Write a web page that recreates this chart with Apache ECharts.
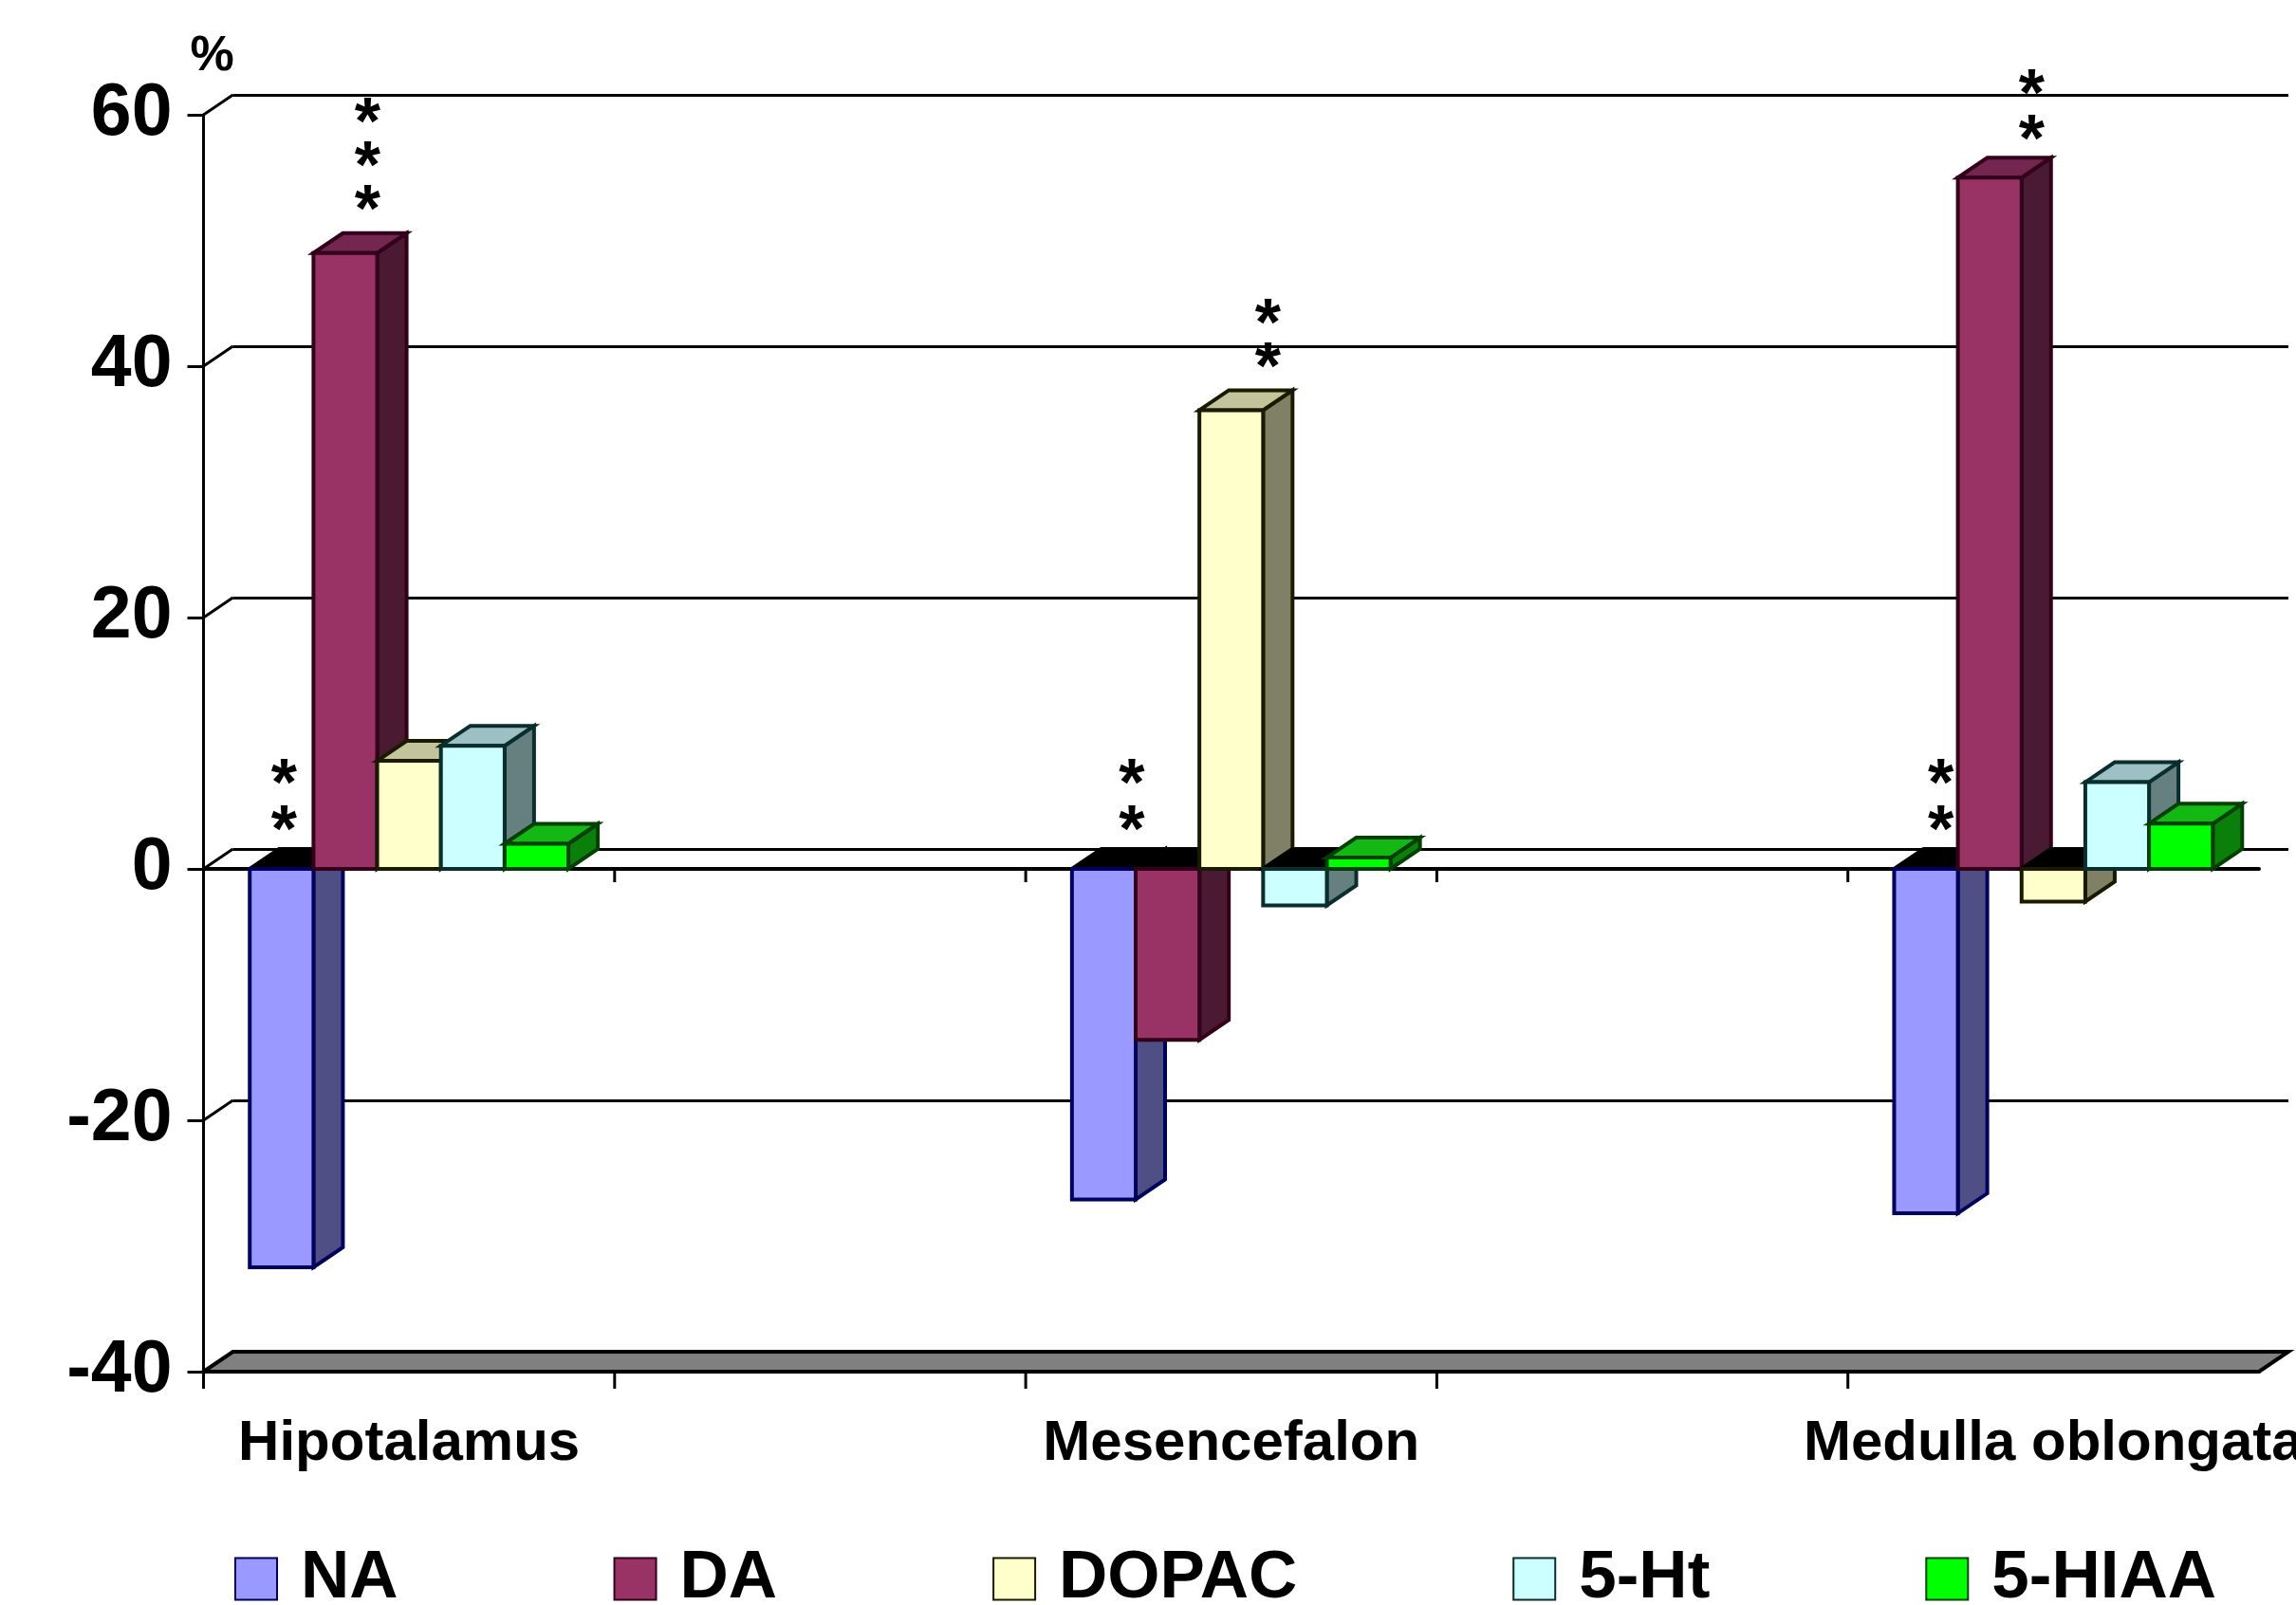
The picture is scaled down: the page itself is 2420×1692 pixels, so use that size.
<!DOCTYPE html>
<html>
<head>
<meta charset="utf-8">
<title>Hipotalamus, Mesencefalon, Medulla oblongata</title>
<script src="https://cdn.jsdelivr.net/npm/echarts@6/dist/echarts.min.js"></script>
<style>
html, body { margin: 0; padding: 0; background: #fff; overflow: hidden; }
#main { width: 2420px; height: 1692px; }
</style>
</head>
<body>
<div id="main"></div>
<script>
// two empty categories keep the gaps between the regions
var categories = ['Hipotalamus', '', 'Mesencefalon', '', 'Medulla oblongata'];
var yTicks = [60, 40, 20, 0, -20, -40];

var valuesNA = [-31.7, null, -26.3, null, -27.4];
var valuesDA = [49, null, -13.6, null, 55];
var valuesDOPAC = [8.6, null, 36.5, null, -2.6];
var valuesHt = [9.8, null, -2.9, null, 6.9];
var valuesHIAA = [2, null, 0.9, null, 3.6];

// significance stars: category, value, offset from band centre (in bands)
var starCats = [0, 0, 0, 0, 0, 2, 2, 2, 2, 4, 4, 4, 4];
var starValues = [7.6, 3.9, 60.2, 56.7, 53.2, 7.6, 3.9, 44.2, 40.7, 7.6, 3.9, 62.4, 58.8];
var starOffsets = [-0.304, -0.304, -0.101, -0.101, -0.101, -0.242, -0.242, 0.089, 0.089, -0.274, -0.274, -0.053, -0.053];

// 3d look
var depthX = 31;
var depthY = -21;
var barRatio = 0.155;
var lineColor = '#000';
var fontName = '"Liberation Sans", Arial, sans-serif';

var barStyles = [
	{ name: 'NA', data: valuesNA, front: '#9999ff', side: '#4f4f85', top: '#6d6db5', border: '#00005c' },
	{ name: 'DA', data: valuesDA, front: '#993366', side: '#4a1a33', top: '#732650', border: '#33001a' },
	{ name: 'DOPAC', data: valuesDOPAC, front: '#ffffcc', side: '#808066', top: '#c4c49c', border: '#1a1a00' },
	{ name: '5-Ht', data: valuesHt, front: '#ccffff', side: '#668080', top: '#9cc0c4', border: '#0a2e2e' },
	{ name: '5-HIAA', data: valuesHIAA, front: '#00ff00', side: '#0a800a', top: '#14b814', border: '#004000' }
];

function quad(a, b, c, d, fill, stroke, lw) {
	return {
		type: 'polygon',
		shape: { points: [a, b, c, d] },
		style: { fill: fill, stroke: stroke, lineWidth: lw }
	};
}

function barRenderer(index, st) {
	return function (params, api) {
		var val = api.value(1);
		if (isNaN(val)) return;
		var band = api.size([1, 0])[0];
		var w = band * barRatio;
		var center = api.coord([api.value(0), 0]);
		var x0 = center[0] + (index - 2.5) * w;
		var x1 = x0 + w;
		var y0 = center[1];
		var y1 = api.coord([api.value(0), val])[1];
		var topY = Math.min(y0, y1);
		var lowY = Math.max(y0, y1);
		var topFill = val < 0 ? '#000' : st.top;
		return {
			type: 'group',
			children: [
				quad([x1, topY], [x1 + depthX, topY + depthY], [x1 + depthX, lowY + depthY], [x1, lowY], st.side, st.border, 4),
				quad([x0, topY], [x0 + depthX, topY + depthY], [x1 + depthX, topY + depthY], [x1, topY], topFill, val < 0 ? '#000' : st.border, 4),
				{
					type: 'rect',
					shape: { x: x0, y: topY, width: w, height: lowY - topY },
					style: { fill: st.front, stroke: st.border, lineWidth: 4 }
				}
			]
		};
	};
}

var barSeries = barStyles.map(function (st, index) {
	return {
		name: st.name,
		type: 'custom',
		xAxisIndex: 0,
		yAxisIndex: 0,
		z: 5,
		encode: { x: 0, y: 1 },
		itemStyle: { color: st.front, borderColor: st.border, borderWidth: 3 },
		renderItem: barRenderer(index, st),
		data: st.data.map(function (v, i) { return [i, v]; })
	};
});

// grey floor under the chart
var floorSeries = {
	type: 'custom',
	xAxisIndex: 0,
	yAxisIndex: 0,
	z: 3,
	silent: true,
	encode: { x: 0, y: 1 },
	renderItem: function (params, api) {
		var sys = params.coordSys;
		var y = api.coord([0, yTicks[yTicks.length - 1]])[1];
		return quad([sys.x, y], [sys.x + depthX, y + depthY], [sys.x + sys.width + depthX, y + depthY], [sys.x + sys.width, y], '#808080', lineColor, 4);
	},
	data: [[0, yTicks[yTicks.length - 1]]]
};

// short slanted lines from the axis to the back wall
var wallSeries = {
	type: 'custom',
	xAxisIndex: 0,
	yAxisIndex: 0,
	z: 2,
	silent: true,
	encode: { x: 0, y: 1 },
	renderItem: function (params, api) {
		var x = params.coordSys.x;
		var y = api.coord([0, api.value(1)])[1];
		return {
			type: 'line',
			shape: { x1: x, y1: y, x2: x + depthX, y2: y + depthY },
			style: { stroke: lineColor, lineWidth: 3 }
		};
	},
	data: yTicks.map(function (t) { return [0, t]; })
};

// band ticks under the zero line and under the floor, none on the far right
var bandTickSeries = {
	type: 'custom',
	xAxisIndex: 0,
	yAxisIndex: 0,
	z: 2,
	silent: true,
	encode: { x: 0, y: 1 },
	renderItem: function (params, api) {
		var band = api.size([1, 0])[0];
		var x = api.coord([api.value(0), 0])[0] - band / 2;
		var zeroY = api.coord([0, 0])[1];
		var lowY = api.coord([0, yTicks[yTicks.length - 1]])[1];
		return {
			type: 'group',
			children: [
				{ type: 'line', shape: { x1: x, y1: zeroY, x2: x, y2: zeroY + 14 }, style: { stroke: lineColor, lineWidth: 3 } },
				{ type: 'line', shape: { x1: x, y1: lowY, x2: x, y2: lowY + 18 }, style: { stroke: lineColor, lineWidth: 3 } }
			]
		};
	},
	data: categories.map(function (c, i) { return [i, 0]; })
};

var starSeries = {
	type: 'custom',
	xAxisIndex: 0,
	yAxisIndex: 0,
	z: 8,
	silent: true,
	encode: { x: 0, y: 1 },
	renderItem: function (params, api) {
		var p = api.coord([api.value(0), api.value(1)]);
		var band = api.size([1, 0])[0];
		return {
			type: 'text',
			style: {
				x: p[0] + api.value(2) * band,
				y: p[1] + 14,
				text: '*',
				fill: '#000',
				font: 'bold 70px ' + fontName,
				textAlign: 'center',
				textVerticalAlign: 'middle'
			}
		};
	},
	data: starCats.map(function (c, i) { return [c, starValues[i], starOffsets[i]]; })
};

var myChart = echarts.init(document.getElementById('main'));
myChart.setOption({
	animation: false,
	backgroundColor: '#fff',
	legend: {
		data: barStyles.map(function (st) { return st.name; }),
		left: 242,
		top: 1624,
		icon: 'rect',
		itemWidth: 44,
		itemHeight: 44,
		itemGap: 227,
		selectedMode: false,
		textStyle: {
			color: '#000',
			fontFamily: fontName,
			fontWeight: 'bold',
			fontSize: 71,
			padding: [0, 0, 0, 20]
		}
	},
	grid: [
		{ left: 214.5, top: 121, width: 2166.5, height: 1325, outerBoundsMode: 'none' },
		// back wall, same size, moved by the depth
		{ left: 214.5 + depthX, top: 121 + depthY, width: 2166.5, height: 1325, outerBoundsMode: 'none' }
	],
	xAxis: [
		{
			type: 'category',
			gridIndex: 0,
			position: 'bottom',
			data: categories,
			axisLine: { onZero: false, lineStyle: { color: lineColor, width: 4 } },
			axisTick: { show: false },
			axisLabel: {
				interval: 0,
				margin: 46,
				color: '#000',
				fontFamily: fontName,
				fontWeight: 'bold',
				fontSize: 60
			}
		},
		{
			type: 'category',
			gridIndex: 0,
			position: 'top',
			data: categories,
			axisLine: { onZero: true, lineStyle: { color: lineColor, width: 4 } },
			axisTick: { show: false },
			axisLabel: { show: false }
		},
		{
			type: 'category',
			gridIndex: 1,
			show: false,
			data: categories
		}
	],
	yAxis: [
		{
			type: 'value',
			gridIndex: 0,
			min: -40,
			max: 60,
			interval: 20,
			name: '%',
			nameLocation: 'end',
			nameGap: 35,
			nameTextStyle: {
				color: '#000',
				fontFamily: fontName,
				fontWeight: 'bold',
				fontSize: 52,
				padding: [0, 0, 0, 18]
			},
			axisLine: { show: true, onZero: false, lineStyle: { color: lineColor, width: 3 } },
			axisTick: { show: true, length: 17, lineStyle: { color: lineColor, width: 3 } },
			splitLine: { show: false },
			axisLabel: {
				margin: 33,
				padding: [4, 0, 0, 0],
				color: '#000',
				fontFamily: fontName,
				fontWeight: 'bold',
				fontSize: 77
			}
		},
		{
			type: 'value',
			gridIndex: 1,
			min: -40,
			max: 60,
			interval: 20,
			axisLine: { show: false },
			axisTick: { show: false },
			axisLabel: { show: false },
			splitLine: { show: true, lineStyle: { color: lineColor, width: 3 } }
		}
	],
	series: [wallSeries, bandTickSeries, floorSeries].concat(barSeries).concat([starSeries])
});
</script>
</body>
</html>
